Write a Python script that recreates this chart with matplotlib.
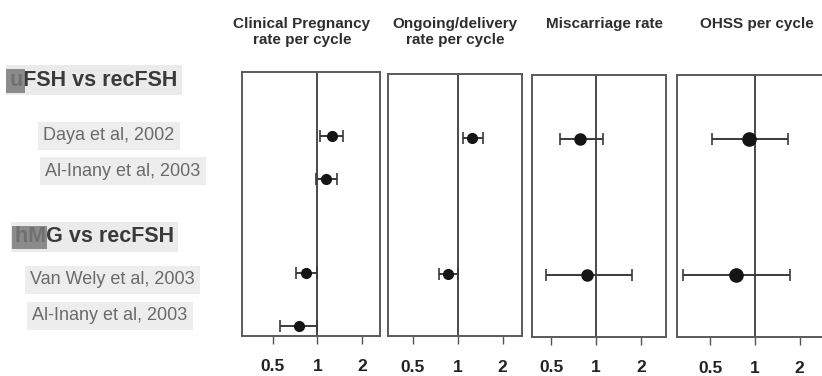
import numpy as np
import matplotlib.pyplot as plt
import matplotlib.patches as mpatches

plt.rcParams['font.family'] = ['Liberation Sans', 'DejaVu Sans']

# Outcomes (one panel each) and the studies (rows)
outcomes = ["Clinical Pregnancy\nrate per cycle", "Ongoing/delivery\nrate per cycle",
            "Miscarriage rate", "OHSS per cycle"]
groups = ["uFSH vs recFSH", "hMG vs recFSH"]
studies = ["Daya et al, 2002", "Al-Inany et al, 2003",
           "Van Wely et al, 2003", "Al-Inany et al, 2003"]
nan = np.nan

# odds ratios with 95% CI (rows as in studies)
cpr_or = [1.26, 1.14, 0.84, 0.75]
cpr_lo = [1.05, 0.98, 0.72, 0.56]
cpr_hi = [1.48, 1.35, 1.00, 1.00]

ong_or = [1.24, nan, 0.865, nan]
ong_lo = [1.08, nan, 0.75, nan]
ong_hi = [1.48, nan, 1.01, nan]

mis_or = [0.78, nan, 0.87, nan]
mis_lo = [0.57, nan, 0.46, nan]
mis_hi = [1.11, nan, 1.73, nan]

ohss_or = [0.915, nan, 0.745, nan]
ohss_lo = [0.51, nan, 0.33, nan]
ohss_hi = [1.66, nan, 1.72, nan]

tick_vals = [0.5, 1, 2]
tick_labels = ["0.5", "1", "2"]

panel_data = [(cpr_or, cpr_lo, cpr_hi), (ong_or, ong_lo, ong_hi),
              (mis_or, mis_lo, mis_hi), (ohss_or, ohss_lo, ohss_hi)]

# layout (pixels of the 822x376 picture)
W, H = 822, 376
row_pos = [1.0, 1.9, 3.9, 5.0]
panel_px = [(241.7, 72, 380, 335.5), (388.3, 74, 521.7, 336),
            (531.7, 75, 666, 336.7), (677.3, 75, 823, 337)]
panel_xlim = [(0.31, 2.64), (0.343, 2.68), (0.371, 2.94), (0.30, 2.87)]
marker_sizes = [7, 7, 8, 9.5]
title_x = [302, 455, 604, 757]


def px_rect(l, t, r, b):
    return [l / W, 1 - b / H, (r - l) / W, (b - t) / H]


fig = plt.figure(figsize=(W / 100, H / 100), dpi=100)

for i, (vals, lo, hi) in enumerate(panel_data):
    ax = fig.add_axes(px_rect(*panel_px[i]))
    ax.set_xscale('log')
    ax.set_xlim(*panel_xlim[i])
    ax.set_ylim(5.21, -0.355)
    ax.axvline(1, color='#3c3c3c', lw=1.3, zorder=1)
    v = np.array(vals)
    err = np.array([v - np.array(lo), np.array(hi) - v])
    ax.errorbar(v, row_pos, xerr=err, fmt='o', color='#151515', ecolor='#3a3a3a',
                elinewidth=1.4, capsize=4.5, capthick=1.2, ms=marker_sizes[i], zorder=3)
    for s in ax.spines.values():
        s.set_color('#5a5a5a')
        s.set_linewidth(1.4)
    ax.set_yticks([])
    ax.set_xticks(tick_vals)
    ax.set_xticklabels(tick_labels, fontsize=12.5, fontweight='bold', color='#222222')
    ax.xaxis.set_minor_locator(plt.NullLocator())
    ax.tick_params(axis='x', direction='out', length=6, width=1, color='#555555', pad=11)
    fig.text(title_x[i] / W, 1 - 17 / H, outcomes[i], ha='center', va='top',
             fontsize=11, fontweight='bold', color='#2e2e2e', linespacing=1.2)

# group headers and study labels on the left
group_px = [(10, 80), (15, 237)]
blob_px = [(6, 69, 25, 93), (12, 226, 47, 249)]
for g, (x, y), (bl, bt, br, bb) in zip(groups, group_px, blob_px):
    fig.text(x / W, 1 - y / H, g, ha='left', va='center', fontsize=15.5,
             fontweight='bold', color='#3a3a3a',
             bbox=dict(boxstyle='square,pad=0.2', fc='#ebebeb', ec='none'))
    fig.patches.append(mpatches.Rectangle((bl / W, 1 - bb / H), (br - bl) / W, (bb - bt) / H,
                                          transform=fig.transFigure, fc='#7a7a7a',
                                          ec='none', alpha=0.85, zorder=5))

study_px = [(43, 136), (45, 171), (30, 280), (32, 316)]
for s, (x, y) in zip(studies, study_px):
    fig.text(x / W, 1 - y / H, s, ha='left', va='center', fontsize=13,
             color='#6a6a6a',
             bbox=dict(boxstyle='square,pad=0.3', fc='#ededed', ec='none'))

fig.savefig('out.png', dpi=100)
